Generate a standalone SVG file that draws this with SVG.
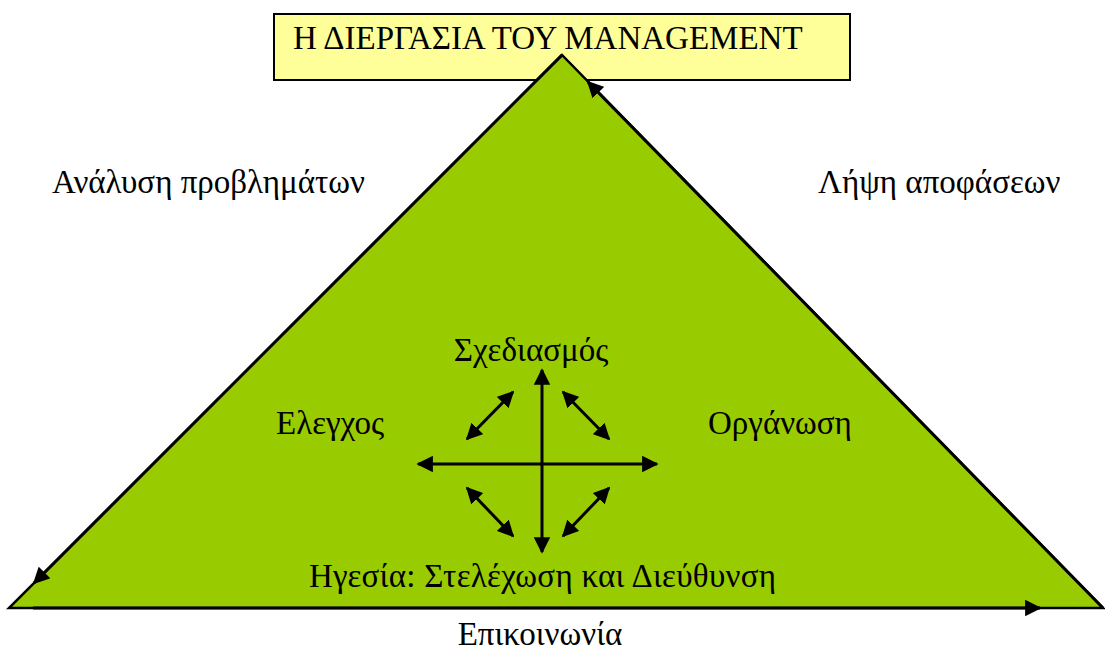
<svg xmlns="http://www.w3.org/2000/svg" width="1105" height="653" viewBox="0 0 1105 653">
<defs>
<style>
text{font-family:"Liberation Serif","Times New Roman",serif;font-size:33px;fill:#000}
.ln{stroke:#000;stroke-width:3;fill:none}
</style>
<marker id="ah" viewBox="0 0 10 10" refX="9" refY="5" markerWidth="5.5" markerHeight="5.5" orient="auto-start-reverse" markerUnits="strokeWidth">
<path d="M0,0 L10,5 L0,10 z" fill="#000"/>
</marker>
</defs>
<rect width="1105" height="653" fill="#fff"/>
<g id="title">
<rect x="274" y="14" width="576" height="66" fill="#FFFF99" stroke="#000" stroke-width="2"/>
<text x="293" y="49">Η ΔΙΕΡΓΑΣΙΑ ΤΟΥ MANAGEMENT</text>
</g>
<g id="triangle">
<polygon points="562,55 9,608 1103,608" fill="#99CC00" stroke="#000" stroke-width="2.5" stroke-linejoin="miter"/>
</g>
<g id="connectors">
<line class="ln" x1="562" y1="55" x2="34" y2="583" marker-end="url(#ah)"/>
<line class="ln" x1="1103" y1="608" x2="588" y2="82" marker-end="url(#ah)"/>
<line class="ln" x1="33" y1="608" x2="1040" y2="608" marker-end="url(#ah)"/>
<line class="ln" x1="542" y1="552" x2="542" y2="370" marker-end="url(#ah)" marker-start="url(#ah)"/>
<line class="ln" x1="418" y1="464" x2="657" y2="464" marker-end="url(#ah)" marker-start="url(#ah)"/>
<line class="ln" x1="467" y1="439" x2="513" y2="392" marker-end="url(#ah)" marker-start="url(#ah)"/>
<line class="ln" x1="563" y1="392" x2="609" y2="439" marker-end="url(#ah)" marker-start="url(#ah)"/>
<line class="ln" x1="467" y1="488" x2="513" y2="536" marker-end="url(#ah)" marker-start="url(#ah)"/>
<line class="ln" x1="563" y1="536" x2="609" y2="488" marker-end="url(#ah)" marker-start="url(#ah)"/>
</g>
<g id="labels">
<text x="52" y="193">Ανάλυση προβλημάτων</text>
<text x="818" y="193">Λήψη αποφάσεων</text>
<text x="531" y="361" text-anchor="middle">Σχεδιασμός</text>
<text x="276" y="434">Ελεγχος</text>
<text x="708" y="434">Οργάνωση</text>
<text x="309" y="587" textLength="467" lengthAdjust="spacing">Ηγεσία: Στελέχωση και Διεύθυνση</text>
<text x="540" y="645" text-anchor="middle">Επικοινωνία</text>
</g>
</svg>
